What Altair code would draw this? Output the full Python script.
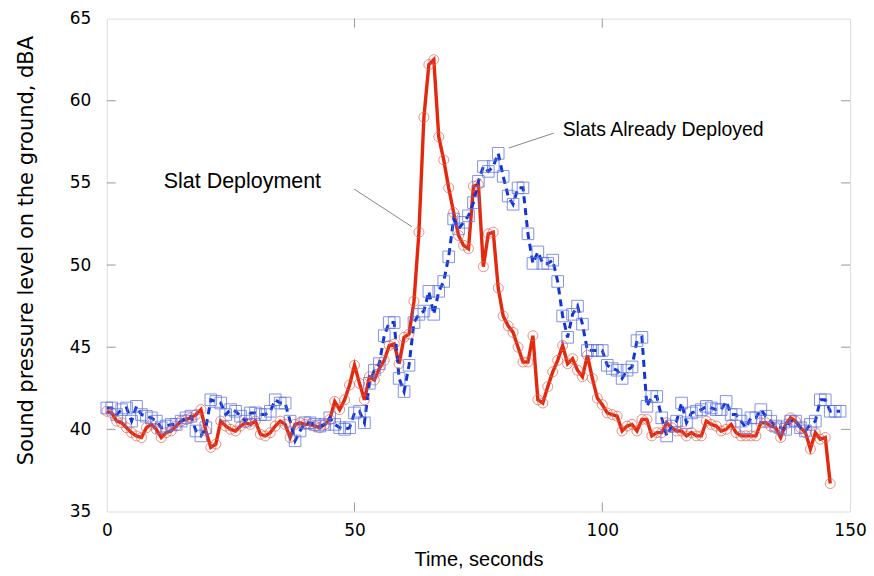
import altair as alt
import pandas as pd

# ---- data ----
red_values = [
    41.1, 41.0, 40.5, 40.4, 40.1, 39.8, 39.6, 39.5, 40.1, 40.3,
    40.0, 39.5, 39.8, 39.9, 40.2, 40.5, 40.6, 40.7, 40.9, 41.2,
    39.9, 38.9, 39.1, 40.5, 40.2, 40.0, 39.9, 40.2, 40.4, 40.3,
    40.5, 39.7, 39.6, 39.8, 40.2, 40.5, 40.3, 39.5, 40.3, 40.4,
    40.3, 40.3, 40.2, 40.1, 40.3, 40.6, 41.7, 41.2, 41.8, 42.7,
    43.9, 42.8, 41.8, 43.2, 43.0, 43.7, 44.2, 45.1, 45.2, 44.0,
    45.6, 45.8, 47.8, 52.0, 59.0, 62.2, 62.5, 57.8, 56.4, 54.7,
    53.2, 51.8, 51.2, 51.0, 54.8, 54.9, 49.9, 51.9, 52.0, 48.6,
    46.9, 46.3, 45.9, 45.0, 44.1, 44.1, 45.7, 41.8, 41.6, 42.6,
    43.5, 44.2, 45.1, 44.0, 44.3, 43.6, 43.2, 44.5, 43.1, 41.9,
    41.5, 41.0, 40.9, 40.8, 39.9, 40.2, 40.3, 39.9, 40.6, 40.6,
    39.6, 39.8, 39.8, 40.4, 40.1, 39.9, 39.9, 39.6, 39.8, 39.6,
    39.6, 40.5, 40.3, 40.2, 39.9, 40.0, 40.3, 39.8, 39.6, 39.6,
    39.6, 39.6, 40.4, 40.4, 40.2, 40.1, 39.5, 40.3, 40.7, 40.5,
    40.1, 39.8, 38.8, 39.8, 39.4, 39.5, 36.7,
]
red_times = list(range(len(red_values)))

blue_values = [
    41.3, 41.3, 40.9, 41.2, 41.3, 40.5, 41.4, 40.9, 40.8, 40.7,
    40.5, 40.1, 40.2, 40.3, 40.3, 40.5, 40.7, 40.8, 39.9, 39.6,
    40.1, 41.8, 41.7, 41.6, 40.9, 41.2, 41.1, 40.8, 40.5, 41.0,
    41.0, 40.9, 40.9, 41.1, 41.8, 41.6, 41.6, 40.5, 39.3, 39.9,
    40.4, 40.4, 40.3, 40.2, 40.3, 40.7, 40.3, 40.1, 40.0, 40.1,
    41.0, 41.1, 40.4, 42.8, 43.6, 44.0, 45.7, 46.5, 46.5, 43.1,
    42.3, 43.9, 46.5, 47.0, 47.2, 48.4, 47.0, 48.4, 49.0, 50.5,
    52.8, 52.2, 52.6, 53.0, 53.8, 55.1, 56.0, 55.7, 56.0, 56.8,
    55.4, 54.2, 53.7, 54.7, 54.7, 51.9, 50.1, 50.8, 50.1, 50.1,
    50.3, 49.0, 46.9, 45.6, 47.0, 47.5, 46.4, 44.8, 44.8, 44.8,
    44.8, 43.9, 43.7, 43.6, 43.1, 43.6, 43.8, 45.4, 45.6, 41.4,
    42.0, 42.0, 40.7, 39.6, 40.2, 40.5, 41.6, 40.4, 41.0, 41.1,
    41.2, 41.4, 41.3, 41.2, 41.2, 41.7, 40.9, 40.9, 40.5, 40.1,
    40.7, 40.7, 41.2, 40.8, 40.5, 40.2, 40.1, 40.0, 40.5, 40.5,
    40.1, 39.9, 40.3, 40.5, 41.8, 41.8, 41.1, 41.1, 41.1,
]
blue_times = list(range(len(blue_values)))

x_ticks = [0, 50, 100, 150]
y_ticks = [35, 40, 45, 50, 55, 60, 65]
x_inner_ticks = [50, 100]
y_inner_ticks = [40, 45, 50, 55, 60]

note_texts = ["Slat Deployment", "Slats Already Deployed"]
note_t = [11.5, 92.0]
note_v = [55.05, 58.2]
note_sizes = [21.5, 19.5]
leader_t1 = [49.9, 90.2]
leader_v1 = [54.63, 58.03]
leader_t2 = [61.6, 81.1]
leader_v2 = [52.33, 57.12]

W, H = 745, 494
RED = "#e4280e"
BLUE = "#1034d6"

red_df = pd.DataFrame({"t": red_times, "v": red_values})
blue_df = pd.DataFrame({"t": blue_times, "v": blue_values})
notes_df = pd.DataFrame({"t": note_t, "v": note_v, "label": note_texts, "fs": note_sizes})
leader_df = pd.DataFrame({"t": leader_t1, "v": leader_v1, "t2": leader_t2, "v2": leader_v2})
xt_df = pd.DataFrame({"t": x_inner_ticks})
yt_df = pd.DataFrame({"v": y_inner_ticks})

xscale = alt.Scale(domain=[0, 150], nice=False, zero=False)
yscale = alt.Scale(domain=[35, 65], nice=False, zero=False)

x_enc = alt.X("t:Q", scale=xscale, axis=alt.Axis(
    values=x_ticks, title="Time, seconds", ticks=False, domain=False, grid=False,
    labelFont="DejaVu Sans", labelFontSize=17, labelColor="black", labelPadding=11,
    titleFont="Liberation Sans", titleFontSize=20, titleFontWeight="normal",
    titleColor="black", titlePadding=11, labelFlush=False))
y_enc = alt.Y("v:Q", scale=yscale, axis=alt.Axis(
    values=y_ticks, title="Sound pressure level on the ground, dBA", ticks=False,
    domain=False, grid=False, labelFont="DejaVu Sans", labelFontSize=17,
    labelColor="black", labelPadding=16, titleFont="DejaVu Sans",
    titleFontSize=21, titleFontWeight="normal", titleColor="black",
    titlePadding=33, titleY=232, labelFlush=False))

red_line = alt.Chart(red_df).mark_line(color=RED, strokeWidth=3.4).encode(x=x_enc, y=y_enc)
blue_line = alt.Chart(blue_df).mark_line(color=BLUE, strokeWidth=3, strokeDash=[7, 5]).encode(
    x=alt.X("t:Q", scale=xscale), y=alt.Y("v:Q", scale=yscale))
red_pts = alt.Chart(red_df).mark_point(shape="circle", filled=False, color="#e06050",
                                       strokeWidth=1, opacity=0.7, size=100).encode(
    x=alt.X("t:Q", scale=xscale), y=alt.Y("v:Q", scale=yscale))
blue_pts = alt.Chart(blue_df).mark_point(shape="square", filled=False, color="#5a6fe0",
                                         strokeWidth=1, opacity=0.75, size=135).encode(
    x=alt.X("t:Q", scale=xscale), y=alt.Y("v:Q", scale=yscale))

leaders = alt.Chart(leader_df).mark_rule(color="#888888", strokeWidth=1).encode(
    x=alt.X("t:Q", scale=xscale), y=alt.Y("v:Q", scale=yscale), x2="t2:Q", y2="v2:Q")
notes = alt.Chart(notes_df).mark_text(align="left", baseline="middle", font="Liberation Sans",
                                      color="black").encode(
    x=alt.X("t:Q", scale=xscale), y=alt.Y("v:Q", scale=yscale), text="label:N",
    size=alt.Size("fs:Q", scale=None, legend=None))

tick_color = "#999999"
bt = alt.Chart(xt_df).mark_rule(color=tick_color, strokeWidth=1).encode(
    x=alt.X("t:Q", scale=xscale), y=alt.value(H), y2=alt.value(H - 9))
tt = alt.Chart(xt_df).mark_rule(color=tick_color, strokeWidth=1).encode(
    x=alt.X("t:Q", scale=xscale), y=alt.value(0), y2=alt.value(9))
lt = alt.Chart(yt_df).mark_rule(color=tick_color, strokeWidth=1).encode(
    y=alt.Y("v:Q", scale=yscale), x=alt.value(0), x2=alt.value(9))
rt = alt.Chart(yt_df).mark_rule(color=tick_color, strokeWidth=1).encode(
    y=alt.Y("v:Q", scale=yscale), x=alt.value(W), x2=alt.value(W - 9))

chart = alt.layer(bt, tt, lt, rt, red_line, blue_line, red_pts, blue_pts, leaders, notes).properties(
    width=W, height=H,
    autosize=alt.AutoSizeParams(type="none"),
    padding={"left": 99, "top": 10, "right": 16, "bottom": 58},
).configure_view(stroke="black", strokeWidth=2).configure(background="white")

chart.save("out.html", embed_options={"renderer": "svg", "actions": False})
